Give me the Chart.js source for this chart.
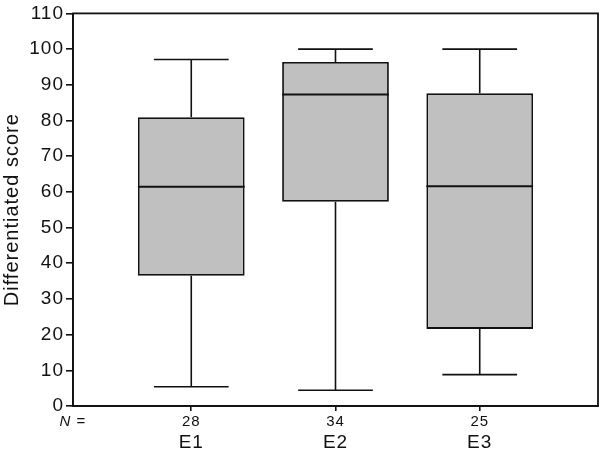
<!DOCTYPE html>
<html>
<head>
<meta charset="utf-8">
<script src="https://cdn.jsdelivr.net/npm/chart.js@4"></script>
<style>
  html, body { margin: 0; padding: 0; background: #fff; }
  #wrap { width: 600px; height: 451px; }
</style>
</head>
<body>
<div id="wrap"><canvas id="boxChart"></canvas></div>
<script>
// Dados
const groups = ['E1', 'E2', 'E3'];
const nCounts = [28, 34, 25];
const whiskerLow = [5.4, 4.4, 8.8];
const q1 = [36.5, 57.2, 21.6];
const median = [61.4, 87.3, 61.6];
const q3 = [80.9, 96.4, 87.6];
const whiskerHigh = [97.1, 100, 100];
const yTicks = [0, 10, 20, 30, 40, 50, 60, 70, 80, 90, 100, 110];

const positions = groups.map((g, i) => i + 1);
const fontName = "'Liberation Sans', Arial, sans-serif";

// Espaçamento das letras um pouco mais largo, como no original
const spacingPlugin = {
    id: 'letterSpacing',
    beforeDraw(chart) {
        chart.ctx.letterSpacing = '1px';
    }
};

// Bigodes, medianas e moldura
const boxPlugin = {
    id: 'boxExtras',
    afterDatasetsDraw(chart) {
        const ctx = chart.ctx;
        const x = chart.scales.x;
        const y = chart.scales.y;
        const meta = chart.getDatasetMeta(0);
        ctx.save();
        ctx.strokeStyle = '#111';
        ctx.lineCap = 'butt';
        positions.forEach((p, i) => {
            const cx = x.getPixelForValue(p);
            const half = meta.data[i].width / 2;
            const capHalf = half * 0.7;
            // mediana
            ctx.lineWidth = 2;
            ctx.beginPath();
            ctx.moveTo(cx - half, y.getPixelForValue(median[i]));
            ctx.lineTo(cx + half, y.getPixelForValue(median[i]));
            ctx.stroke();
            // bigodes
            ctx.lineWidth = 1.6;
            ctx.beginPath();
            ctx.moveTo(cx, y.getPixelForValue(q3[i]));
            ctx.lineTo(cx, y.getPixelForValue(whiskerHigh[i]));
            ctx.moveTo(cx - capHalf, y.getPixelForValue(whiskerHigh[i]));
            ctx.lineTo(cx + capHalf, y.getPixelForValue(whiskerHigh[i]));
            ctx.moveTo(cx, y.getPixelForValue(q1[i]));
            ctx.lineTo(cx, y.getPixelForValue(whiskerLow[i]));
            ctx.moveTo(cx - capHalf, y.getPixelForValue(whiskerLow[i]));
            ctx.lineTo(cx + capHalf, y.getPixelForValue(whiskerLow[i]));
            ctx.stroke();
        });
        // moldura
        const a = chart.chartArea;
        ctx.lineWidth = 1.8;
        ctx.strokeRect(a.left, a.top, a.right - a.left, a.bottom - a.top);
        // rótulo "N ="
        const lblY = x.bottom - x.height / 2 + 3;
        ctx.fillStyle = '#111';
        ctx.textBaseline = 'middle';
        ctx.textAlign = 'left';
        ctx.font = "italic 15px " + fontName;
        const nW = ctx.measureText('N').width;
        ctx.font = "15px " + fontName;
        const eqW = ctx.measureText(' =').width;
        const startX = a.left - (nW + eqW) / 2;
        ctx.font = "italic 15px " + fontName;
        ctx.fillText('N', startX, lblY);
        ctx.font = "15px " + fontName;
        ctx.fillText(' =', startX + nW, lblY);
        ctx.restore();
    }
};

function initChart() {
    const ctx = document.getElementById('boxChart').getContext('2d');
    new Chart(ctx, {
        type: 'bar',
        data: {
            datasets: [{
                data: positions.map((p, i) => ({ x: p, y: [q1[i], q3[i]] })),
                backgroundColor: '#c0c0c0',
                borderColor: '#111',
                borderWidth: 1.8,
                borderSkipped: false,
                categoryPercentage: 1,
                barPercentage: 0.74,
                xAxisID: 'x',
                yAxisID: 'y'
            }]
        },
        options: {
            responsive: true,
            maintainAspectRatio: false,
            animation: false,
            layout: { padding: { top: 10, right: 2, left: 0, bottom: 0 } },
            plugins: {
                legend: { display: false },
                tooltip: { enabled: false }
            },
            scales: {
                x: {
                    type: 'linear',
                    min: 0.18,
                    max: 3.82,
                    offset: false,
                    weight: 0,
                    afterBuildTicks: s => { s.ticks = positions.map(v => ({ value: v })); },
                    afterFit: s => { s.height = 25; },
                    ticks: {
                        autoSkip: false,
                        maxRotation: 0,
                        padding: 2,
                        color: '#111',
                        font: { family: fontName, size: 15 },
                        callback: (v) => String(nCounts[positions.indexOf(v)])
                    },
                    grid: { offset: false, drawOnChartArea: false, tickLength: 5, color: '#111', lineWidth: 1.6 },
                    border: { display: true, color: '#111', width: 1.8 }
                },
                x2: {
                    type: 'linear',
                    position: 'bottom',
                    min: 0.18,
                    max: 3.82,
                    offset: false,
                    weight: 1,
                    afterBuildTicks: s => { s.ticks = positions.map(v => ({ value: v })); },
                    afterFit: s => { s.height = 20; },
                    ticks: {
                        autoSkip: false,
                        maxRotation: 0,
                        padding: 0,
                        color: '#111',
                        font: { family: fontName, size: 19 },
                        callback: (v) => groups[positions.indexOf(v)]
                    },
                    grid: { display: false, drawTicks: false, offset: false },
                    border: { display: false }
                },
                y: {
                    min: 0,
                    max: 110,
                    afterBuildTicks: s => { s.ticks = yTicks.map(v => ({ value: v })); },
                    afterFit: s => { s.width = 73; },
                    ticks: {
                        padding: 2,
                        color: '#111',
                        font: { family: fontName, size: 19 }
                    },
                    grid: { drawOnChartArea: false, tickLength: 7, color: '#111', lineWidth: 1.6 },
                    border: { display: true, color: '#111', width: 1.8 },
                    title: {
                        display: true,
                        text: 'Differentiated score',
                        color: '#111',
                        font: { family: fontName, size: 20 },
                        padding: { top: 0, bottom: 0 }
                    }
                }
            }
        },
        plugins: [spacingPlugin, boxPlugin]
    });
}

document.addEventListener('DOMContentLoaded', () => {
    initChart();
});
</script>
</body>
</html>
